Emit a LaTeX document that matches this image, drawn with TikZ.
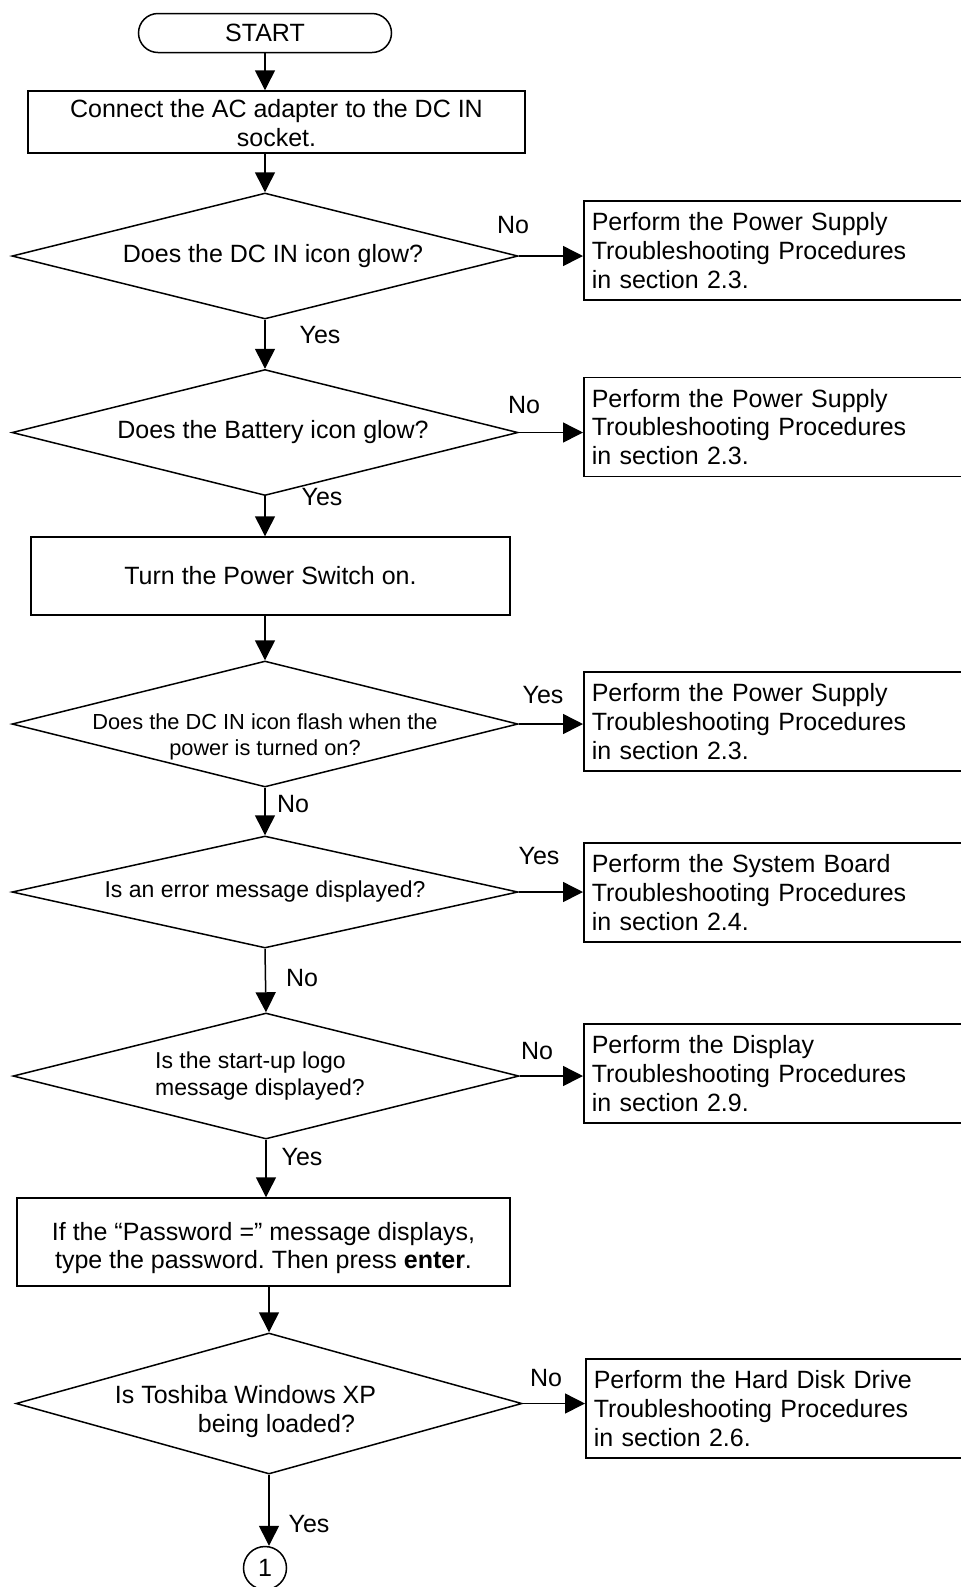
\documentclass[tikz,border=0pt]{standalone}
\usepackage{fontspec}
\setmainfont{Liberation Sans}
\frenchspacing
\usetikzlibrary{arrows.meta,shapes.geometric,shapes.misc}
\tikzset{%
	>={Triangle[width=10pt,length=10pt]},
	% Specifications for style of nodes:
	base/.style = {rectangle, draw=black, line width=0.75pt, inner sep=0pt,
		align=center, font=\fontsize{12.5}{14.4}\selectfont},
	terminator/.style = {base, rounded rectangle, minimum width=126.5pt, minimum height=19.5pt},
	decision/.style = {base, diamond, inner sep=-60pt, minimum width=253pt, minimum height=63pt},
	refer/.style = {base, anchor=west, align=left, text width=183pt,
		inner xsep=4pt, minimum height=49.5pt},
	connector/.style = {base, circle, minimum size=21.5pt},
	lbl/.style = {font=\fontsize{12.5}{14.4}\selectfont, inner sep=0pt}
}
\begin{document}
\begin{tikzpicture}[x=0.5pt, y=-0.5pt, line width=0.75pt]
	\useasboundingbox (0,0) rectangle (961,1587);
	% Main column
	\node (start)    [terminator] at (265,33)    {START};
	\node (connect)  [base, minimum width=248.5pt, minimum height=31pt] at (276.5,122)
		{\rule{0pt}{10pt}Connect the AC adapter to the DC IN\\socket.};
	\node (dcin)     [decision] at (265,256)     {\hspace*{8pt}Does the DC IN icon glow?};
	\node (battery)  [decision] at (265,432.5)   {\hspace*{8pt}Does the Battery icon glow?};
	\node (power)    [base, minimum width=239.5pt, minimum height=39pt] at (270.5,576)
		{Turn the Power Switch on.};
	\node (flash)    [decision, font=\fontsize{10.9}{13.2}\selectfont] at (265,724)
		{\rule{0pt}{21pt}Does the DC IN icon flash when the\\power is turned on?};
	\node (error)    [decision, minimum height=56pt, font=\fontsize{11.5}{13.5}\selectfont] at (265,892)
		{Is an error message displayed?};
	\node (logo)     [decision, align=left, font=\fontsize{11.5}{13.5}\selectfont] at (266,1076)
		{Is the start-up logo\\message displayed?\hspace*{6pt}};
	\node (password) [base, minimum width=246.5pt, minimum height=44pt] at (263.5,1242)
		{\rule{0pt}{15pt}If the “Password =” message displays,\\type the password. Then press \textbf{enter}.};
	\node (xp)       [decision, align=left, minimum height=70.5pt] at (269,1403.5)
		{\rule{0pt}{17pt}Is Toshiba Windows XP\hspace*{23.5pt}\\\hspace*{41.5pt}being loaded?};
	\node (one)      [connector] at (265,1568)   {1};
	% Side boxes
	\node (ps1)  [refer] at (583,250.5)  {Perform the Power Supply\\Troubleshooting Procedures\\in section 2.3.};
	\node (ps2)  [refer] at (583,427)    {Perform the Power Supply\\Troubleshooting Procedures\\in section 2.3.};
	\node (ps3)  [refer] at (583,721.5)  {Perform the Power Supply\\Troubleshooting Procedures\\in section 2.3.};
	\node (sb)   [refer] at (583,892.5)  {Perform the System Board\\Troubleshooting Procedures\\in section 2.4.};
	\node (disp) [refer] at (583,1073.5) {Perform the Display\\Troubleshooting Procedures\\in section 2.9.};
	\node (hdd)  [refer] at (585,1408.5) {Perform the Hard Disk Drive\\Troubleshooting Procedures\\in section 2.6.};
	% Labels
	\node (no1)  [lbl] at (513,225)  {No};
	\node (yes1) [lbl] at (320,335)  {Yes};
	\node (no2)  [lbl] at (524,405)  {No};
	\node (yes2) [lbl] at (322,497)  {Yes};
	\node (yes3) [lbl] at (543,695)  {Yes};
	\node (no3)  [lbl] at (293,804)  {No};
	\node (yes4) [lbl] at (539,856)  {Yes};
	\node (no4)  [lbl] at (302,978)  {No};
	\node (no5)  [lbl] at (537,1051) {No};
	\node (yes5) [lbl] at (302,1157) {Yes};
	\node (no6)  [lbl] at (546,1378) {No};
	\node (yes6) [lbl] at (309,1524) {Yes};
	
	\draw[->] (start.south) -- (start.south |- connect.north);
	\draw[->] (dcin.north |- connect.south) -- (dcin.north);
	\draw[->] (dcin.south) -- (battery.north);
	\draw[->] (battery.south) -- (battery.south |- power.north);
	\draw[->] (flash.north |- power.south) -- (flash.north);
	\draw[->] (flash.south) -- (error.north);
	\draw[->] (error.south) -- (logo.north);
	\draw[->] (logo.south) -- (logo.south |- password.north);
	\draw[->] (xp.north |- password.south) -- (xp.north);
	\draw[->] (xp.south) -- (xp.south |- one.north);
	\draw[->] (dcin.east) -- (dcin.east -| ps1.west);
	\draw[->] (battery.east) -- (battery.east -| ps2.west);
	\draw[->] (flash.east) -- (flash.east -| ps3.west);
	\draw[->] (error.east) -- (error.east -| sb.west);
	\draw[->] (logo.east) -- (logo.east -| disp.west);
	\draw[->] (xp.east) -- (xp.east -| hdd.west);
\end{tikzpicture}
\end{document}
